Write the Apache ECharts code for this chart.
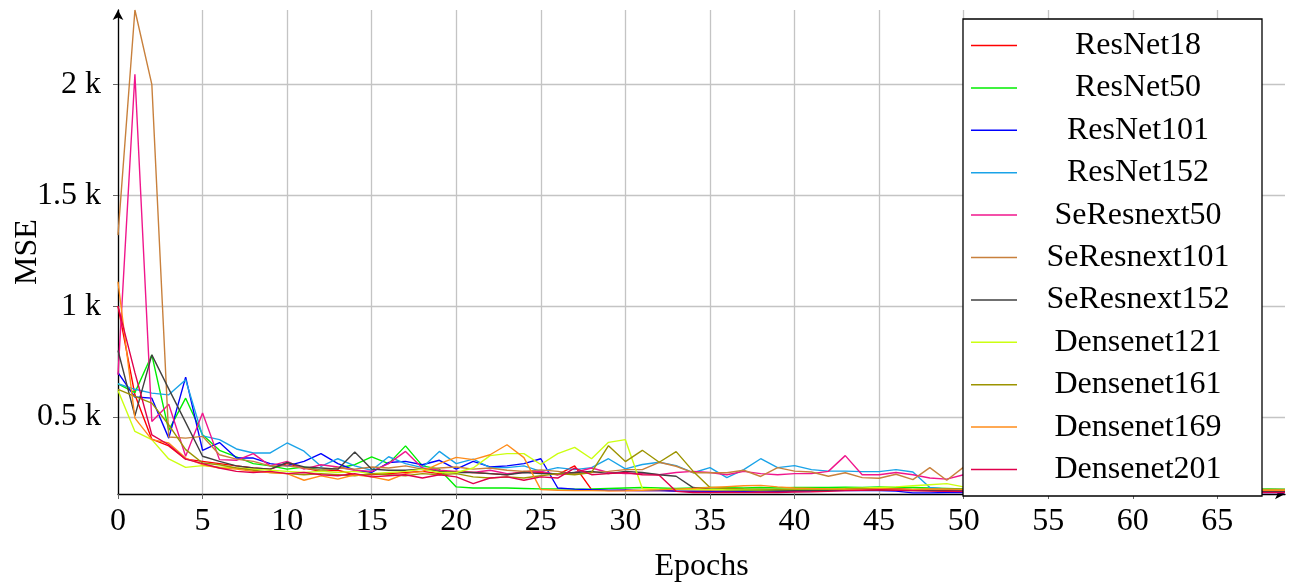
<!DOCTYPE html>
<html>
<head>
<meta charset="utf-8">
<title>MSE per epoch</title>
<script src="https://cdn.jsdelivr.net/npm/echarts@6/dist/echarts.min.js"></script>
<style>
  html, body { margin: 0; padding: 0; background: #fff; }
  #chart { width: 1298px; height: 582px; }
</style>
</head>
<body>
<div id="chart"></div>
<script>
// epochs 0..69
var epochs = [];
for (var i = 0; i < 70; i++) { epochs.push(i); }

var modelNames = ['ResNet18', 'ResNet50', 'ResNet101', 'ResNet152', 'SeResnext50', 'SeResnext101',
                  'SeResnext152', 'Densenet121', 'Densenet161', 'Densenet169', 'Densenet201'];
var lineColors = ['#ff0000', '#00ee00', '#0000ff', '#1aa3e8', '#f0168c', '#c8803c',
                  '#404040', '#ccff11', '#9c9400', '#ff8c1a', '#e0004c'];

var xTicks = [0, 5, 10, 15, 20, 25, 30, 35, 40, 45, 50, 55, 60, 65];
var yTicks = [500, 1000, 1500, 2000];

// MSE values
var resnet18 = [1000, 600, 400, 370, 310, 300, 290, 280, 270, 265, 290, 270, 255, 260, 240, 240, 245, 250, 255, 245,
                255, 250, 245, 240, 255, 250, 240, 280, 173, 168, 170, 168, 170, 166, 165, 167, 165, 166, 168, 165,
                166, 168, 170, 172, 170, 175, 178, 172, 170, 168, 166, 165, 166, 164, 165, 166, 164, 165, 163, 164,
                165, 164, 163, 164, 165, 163, 164, 163, 164, 163];
var resnet50 = [650, 610, 780, 440, 585, 420, 350, 320, 290, 280, 265, 275, 260, 270, 285, 320, 290, 370, 280, 265,
                185, 180, 180, 180, 178, 176, 176, 175, 176, 178, 180, 182, 180, 178, 180, 182, 181, 180, 182, 180,
                182, 183, 182, 184, 182, 185, 183, 182, 180, 178, 176, 175, 176, 174, 175, 176, 174, 175, 174, 175,
                176, 175, 174, 175, 176, 175, 174, 175, 176, 175];
var resnet101 = [700, 590, 585, 405, 680, 350, 385, 315, 315, 290, 280, 300, 335, 290, 260, 250, 295, 300, 285, 305,
                 265, 300, 275, 280, 290, 312, 180, 175, 172, 170, 170, 168, 168, 166, 166, 165, 166, 165, 166, 166,
                 167, 166, 168, 170, 168, 168, 166, 158, 158, 160, 160, 160, 161, 160, 161, 160, 161, 160, 160, 161,
                 160, 161, 160, 161, 160, 160, 161, 160, 161, 160];
var resnet152 = [650, 625, 608, 600, 668, 415, 398, 356, 338, 338, 383, 346, 278, 312, 280, 260, 321, 290, 272, 345,
                 290, 310, 272, 272, 280, 255, 272, 263, 272, 312, 266, 286, 296, 281, 249, 272, 227, 263, 312, 272,
                 281, 263, 256, 256, 254, 254, 263, 252, 182, 175, 172, 170, 171, 170, 169, 170, 169, 170, 169, 170,
                 169, 170, 169, 168, 169, 168, 169, 168, 169, 168];
var seresnext50 = [690, 2045, 480, 558, 323, 518, 308, 305, 335, 280, 300, 265, 285, 275, 260, 255, 290, 345, 270, 260,
                   255, 250, 260, 245, 250, 255, 240, 250, 270, 250, 245, 245, 240, 250, 255, 250, 240, 255, 245, 240,
                   245, 245, 255, 326, 240, 240, 250, 240, 225, 220, 240, 220, 210, 200, 195, 190, 185, 180, 178, 176,
                   175, 174, 172, 171, 170, 170, 169, 168, 168, 167];
var seresnext101 = [1320, 2335, 2000, 410, 405, 413, 330, 310, 300, 280, 280, 270, 260, 270, 265, 275, 270, 280, 265, 270,
                    275, 265, 270, 260, 255, 262, 255, 245, 250, 255, 263, 263, 296, 278, 249, 249, 249, 260, 232, 272,
                    256, 252, 233, 249, 227, 224, 242, 218, 272, 215, 274, 260, 250, 240, 230, 220, 210, 200, 195, 190,
                    185, 182, 180, 178, 176, 175, 175, 174, 174, 173];
var seresnext152 = [800, 505, 780, 627, 476, 323, 300, 280, 270, 265, 295, 275, 270, 265, 342, 265, 260, 260, 265, 255,
                    250, 250, 245, 240, 250, 245, 245, 250, 255, 245, 255, 250, 240, 233, 182, 175, 172, 170, 170, 168,
                    168, 170, 170, 172, 170, 171, 170, 168, 168, 167, 167, 166, 167, 166, 166, 167, 166, 166, 165, 166,
                    166, 165, 166, 165, 165, 166, 165, 165, 166, 165];
var densenet121 = [620, 435, 398, 311, 273, 281, 275, 270, 265, 260, 255, 250, 255, 250, 255, 245, 250, 255, 265, 250,
                   250, 270, 326, 335, 335, 286, 335, 363, 312, 386, 398, 178, 175, 174, 173, 172, 172, 173, 172, 173,
                   174, 175, 176, 178, 180, 182, 185, 190, 195, 200, 185, 180, 178, 176, 175, 174, 174, 173, 173, 172,
                   172, 172, 171, 171, 171, 170, 170, 170, 170, 170];
var densenet161 = [625, 593, 563, 465, 353, 293, 285, 270, 260, 250, 245, 240, 245, 240, 235, 245, 240, 235, 245, 240,
                   245, 230, 225, 230, 225, 235, 245, 240, 250, 371, 299, 350, 296, 344, 256, 182, 178, 176, 175, 174,
                   175, 176, 175, 176, 178, 176, 175, 174, 175, 176, 174, 173, 174, 173, 173, 172, 173, 172, 172, 172,
                   171, 172, 171, 171, 171, 170, 171, 170, 170, 170];
var densenet169 = [1110, 495, 398, 383, 315, 285, 270, 265, 255, 250, 245, 215, 235, 220, 240, 230, 215, 245, 255, 290,
                   318, 308, 330, 375, 317, 173, 170, 168, 168, 167, 168, 170, 172, 175, 178, 182, 186, 190, 192, 185,
                   180, 178, 176, 175, 174, 176, 175, 174, 176, 175, 174, 173, 174, 173, 173, 172, 173, 172, 172, 172,
                   171, 172, 171, 171, 170, 171, 170, 170, 170, 170];
var densenet201 = [1000, 700, 420, 375, 310, 290, 270, 255, 250, 255, 245, 250, 240, 235, 245, 230, 235, 240, 225, 240,
                   230, 200, 225, 230, 215, 230, 225, 270, 240, 245, 250, 240, 238, 165, 160, 160, 161, 160, 161, 160,
                   162, 163, 165, 168, 170, 172, 170, 168, 166, 165, 164, 163, 164, 163, 163, 162, 163, 162, 162, 162,
                   161, 162, 161, 161, 161, 160, 161, 160, 160, 160];

var allValues = [resnet18, resnet50, resnet101, resnet152, seresnext50, seresnext101,
                 seresnext152, densenet121, densenet161, densenet169, densenet201];

var fontName = '"Liberation Serif", "DejaVu Serif", serif';

function drawChart() {
	var myChart = echarts.init(document.getElementById('chart'));

	var seriesList = [];
	for (var s = 0; s < modelNames.length; s++) {
		var pts = [];
		for (var k = 0; k < epochs.length; k++) {
			pts.push([epochs[k], allValues[s][k]]);
		}
		seriesList.push({
			name: modelNames[s],
			type: 'line',
			data: pts,
			symbol: 'none',
			color: lineColors[s],
			lineStyle: { width: 1.4, color: lineColors[s] },
			z: 2
		});
	}

	var option = {
		animation: false,
		backgroundColor: '#ffffff',
		textStyle: { fontFamily: fontName },
		grid: { left: 118, right: 13, top: 10, bottom: 88, outerBoundsMode: 'none', containLabel: false },
		legend: {
			orient: 'vertical',
			left: 963,
			top: 19,
			z: 10,
			data: modelNames,
			icon: 'rect',
			backgroundColor: '#ffffff',
			borderColor: '#000000',
			borderWidth: 1.3,
			borderRadius: 0,
			padding: [10.5, 8, 10.5, 8],
			itemWidth: 46,
			itemHeight: 1.5,
			itemGap: 10.4,
			formatter: function (name) { return '{t|' + name + '}'; },
			textStyle: {
				fontFamily: fontName,
				fontSize: 32,
				color: '#000',
				rich: {
					t: { width: 232, align: 'center', fontSize: 32, fontFamily: fontName, lineHeight: 31, color: '#000' }
				}
			}
		},
		xAxis: {
			type: 'value',
			min: 0,
			max: 69,
			interval: 5,
			name: 'Epochs',
			nameLocation: 'middle',
			nameGap: 57,
			nameMoveOverlap: false,
			nameTextStyle: { fontFamily: fontName, fontSize: 32, color: '#000' },
			axisLine: { show: true, lineStyle: { color: '#000', width: 1.3 }, symbol: ['none', 'arrow'], symbolSize: [8, 10] },
			axisTick: { show: true, length: 5, customValues: xTicks, lineStyle: { color: '#666' } },
			axisLabel: {
				customValues: xTicks,
				margin: 12,
				fontFamily: fontName, fontSize: 32, color: '#000'
			},
			splitLine: { show: true, lineStyle: { color: '#c4c4c4', width: 1.3 } }
		},
		yAxis: {
			type: 'value',
			min: 153,
			max: 2335,
			name: 'MSE',
			nameLocation: 'middle',
			nameRotate: 90,
			nameGap: 74,
			nameMoveOverlap: false,
			nameTextStyle: { fontFamily: fontName, fontSize: 32, color: '#000' },
			axisLine: { show: true, lineStyle: { color: '#000', width: 1.3 }, symbol: ['none', 'arrow'], symbolSize: [8, 10] },
			axisTick: { show: true, length: 5, customValues: yTicks, lineStyle: { color: '#666' } },
			axisLabel: {
				customValues: yTicks,
				margin: 17,
				fontFamily: fontName, fontSize: 32, color: '#000',
				formatter: function (v) { return (v / 1000) + ' k'; }
			},
			splitLine: { show: true, lineStyle: { color: '#c4c4c4', width: 1.3 } }
		},
		series: seriesList
	};
	myChart.setOption(option);
}

drawChart();
</script>
</body>
</html>
